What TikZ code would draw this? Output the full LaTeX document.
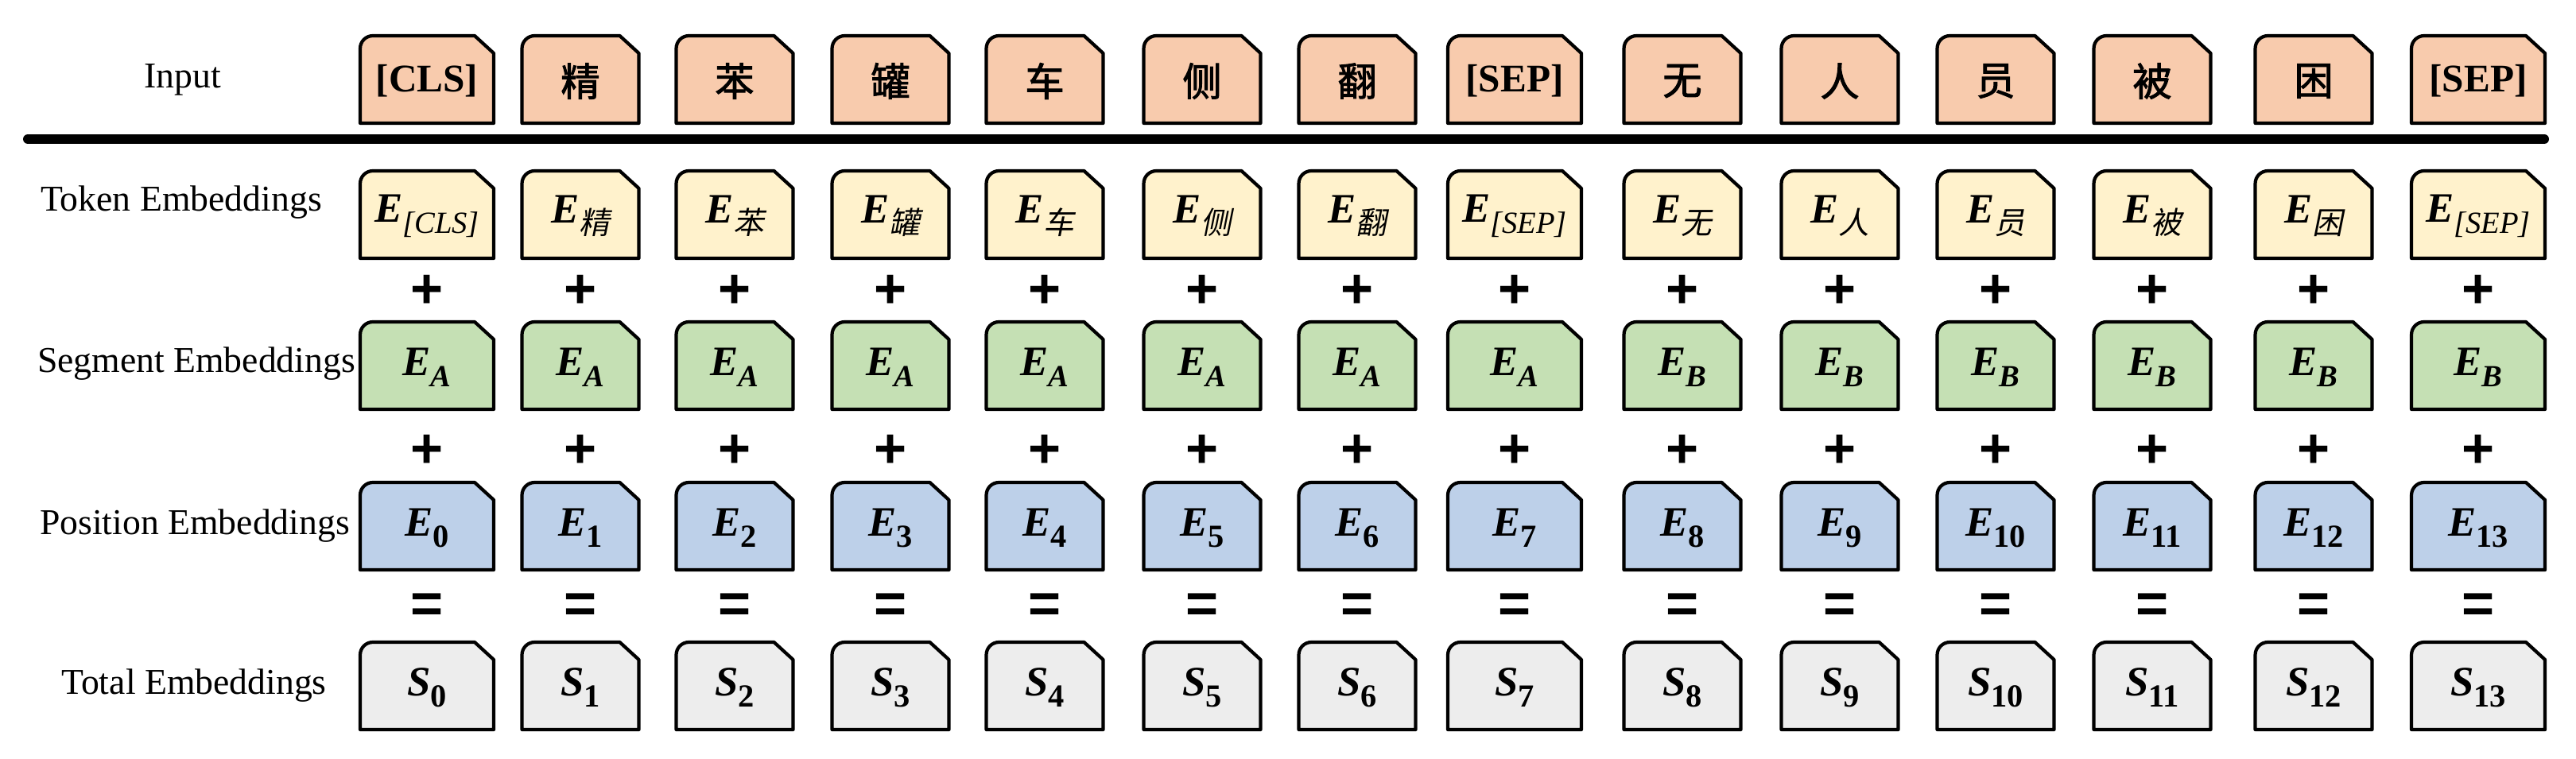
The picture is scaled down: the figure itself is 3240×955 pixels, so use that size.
\documentclass[tikz,border=0pt]{standalone}
\usepackage{fontspec}
\setmainfont{Liberation Serif}
\setsansfont{Liberation Sans}
\newfontfamily\cjk{Noto Sans CJK SC}[FakeSlant=0.2]
\newfontfamily\cjkb{Noto Sans CJK SC}[FakeBold=2]
\definecolor{cin}{HTML}{F8CBAD}
\definecolor{ctok}{HTML}{FFF2CC}
\definecolor{cseg}{HTML}{C5E0B4}
\definecolor{cpos}{HTML}{BDD0E9}
\definecolor{ctot}{HTML}{EDEDED}
\newcommand\embox[6]{%
  \pgfmathsetmacro\bl{#2-#4/2}\pgfmathsetmacro\br{#2+#4/2}%
  \pgfmathsetmacro\bt{#3}\pgfmathsetmacro\bb{#3+110}%
  \draw[line width=1.2pt,fill=#5,line join=round] (\bl,\bb) -- (\bl,\bt+16) to[out=90,in=180] (\bl+16,\bt) -- (\br-24,\bt) -- (\br,\bt+22) -- (\br,\bb) -- cycle;
  \node[font=\fontsize{15}{17}\selectfont] (#1) at (#2,#3+57) {#6};}
\newcommand\sub[1]{\raisebox{-4pt}{\fontsize{11}{12}\selectfont\itshape #1}}
\newcommand\csub[1]{\raisebox{-4pt}{\fontsize{11}{12}\cjk #1}}
\newcommand\nsub[1]{\raisebox{-4pt}{\fontsize{11.5}{12}\selectfont\bfseries #1}}
\newcommand\myE{{\bfseries\itshape E}}
\newcommand\myS{{\bfseries\itshape S}}
\begin{document}
\begin{tikzpicture}[x=0.01cm,y=-0.01cm,
  lab/.style={font=\fontsize{13}{15}\selectfont},
  op/.style={font=\sffamily\bfseries\fontsize{20}{20}\selectfont}]
\useasboundingbox (0,0) rectangle (3240,955);
\node[lab] (lin) at (230,100) {Input};
\node[lab] (ltok) at (228,255) {Token Embeddings};
\node[lab] (lseg) at (247,458) {Segment Embeddings};
\node[lab] (lpos) at (245,662) {Position Embeddings};
\node[lab] (ltot) at (244,863) {Total Embeddings};
\coordinate (la) at (35,175); \coordinate (lb) at (3200,175);
\draw[line width=3.4pt,line cap=round] (la) -- (lb);
\foreach \i/\x/\w/\inp/\tok/\seg in {
 0/537/168/{\bfseries [CLS]}/{\sub{[CLS]}}/A,
 1/730/147/{\cjkb 精}/{\csub{精}}/A,
 2/924/147/{\cjkb 苯}/{\csub{苯}}/A,
 3/1120/147/{\cjkb 罐}/{\csub{罐}}/A,
 4/1314/147/{\cjkb 车}/{\csub{车}}/A,
 5/1512/147/{\cjkb 侧}/{\csub{侧}}/A,
 6/1707/147/{\cjkb 翻}/{\csub{翻}}/A,
 7/1905/168/{\bfseries [SEP]}/{\sub{[SEP]}}/A,
 8/2116/147/{\cjkb 无}/{\csub{无}}/B,
 9/2314/147/{\cjkb 人}/{\csub{人}}/B,
 10/2510/147/{\cjkb 员}/{\csub{员}}/B,
 11/2707/147/{\cjkb 被}/{\csub{被}}/B,
 12/2910/147/{\cjkb 困}/{\csub{困}}/B,
 13/3117/168/{\bfseries [SEP]}/{\sub{[SEP]}}/B}{
  \embox{in\i}{\x}{45}{\w}{cin}{\fontsize{14}{16}\selectfont\inp}
  \embox{tok\i}{\x}{215}{\w}{ctok}{\myE\tok}
  \embox{seg\i}{\x}{405}{\w}{cseg}{\myE\sub{\bfseries\seg}}
  \embox{pos\i}{\x}{607}{\w}{cpos}{\myE\nsub{\i}}
  \embox{tot\i}{\x}{808}{\w}{ctot}{\myS\nsub{\i}}
  \node[op] (pa\i) at (\x,367) {+};
  \node[op] (pb\i) at (\x,568) {+};
  \node[op] (eq\i) at (\x,765) {=};
}
\end{tikzpicture}
\end{document}
